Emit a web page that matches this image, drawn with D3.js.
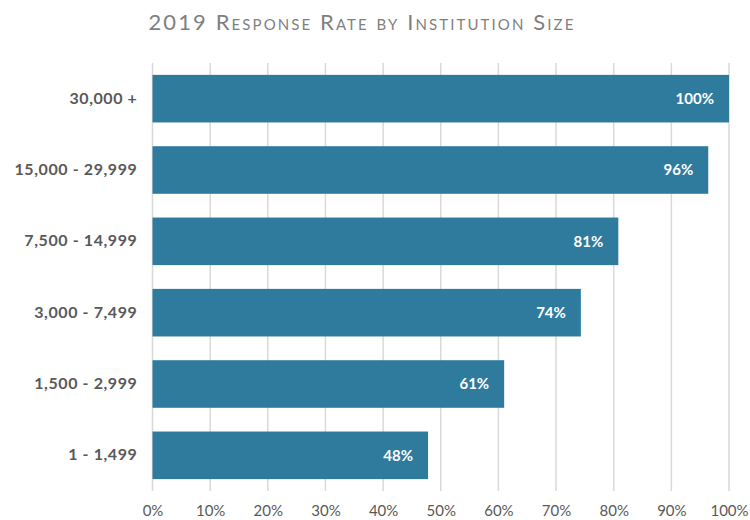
<!DOCTYPE html>
<html>
<head>
<meta charset="utf-8">
<script src="https://cdn.jsdelivr.net/npm/d3@7"></script>
<style>
  body { margin: 0; background: #fff; }
  svg text { font-family: "Lato", "Open Sans", sans-serif; }
</style>
</head>
<body>
<div id="chart"></div>
<script>
// Data
var categories = ["30,000 +", "15,000 - 29,999", "7,500 - 14,999", "3,000 - 7,499", "1,500 - 2,999", "1 - 1,499"];
var rates = [100, 96.4, 80.8, 74.3, 61, 47.8];
var tickValues = [0, 10, 20, 30, 40, 50, 60, 70, 80, 90, 100];
var title = "2019 Response Rate by Institution Size";

var svgWidth = 750;
var svgHeight = 520;
var margin = {top: 63, right: 21, bottom: 29, left: 152.5};
var width = svgWidth - margin.left - margin.right;
var height = svgHeight - margin.top - margin.bottom;

var svg = d3.select("#chart")
  .append("svg")
  .attr("width", svgWidth)
  .attr("height", svgHeight);

// Title
svg.append("text")
  .attr("x", 362)
  .attr("y", 30)
  .attr("text-anchor", "middle")
  .attr("fill", "#7f7f7f")
  .style("font-size", "22px")
  .style("letter-spacing", "2.1px")
  .style("font-variant", "small-caps")
  .text(title);

var chart = svg.append("g")
  .attr("transform", `translate(${margin.left}, ${margin.top})`);

var xScale = d3.scaleLinear()
  .domain([0, 100])
  .range([0, width]);

var yScale = d3.scaleBand()
  .domain(categories)
  .range([0, height])
  .paddingInner(0.333)
  .paddingOuter(0.1665);

// Gridlines
chart.selectAll("line.grid")
  .data(tickValues)
  .enter()
  .append("line")
  .attr("class", "grid")
  .attr("x1", d => xScale(d))
  .attr("x2", d => xScale(d))
  .attr("y1", 0)
  .attr("y2", height)
  .attr("stroke", "#d9d9d9")
  .attr("stroke-width", 1.5);

// X axis labels
var xAxis = chart.append("g")
  .attr("transform", `translate(0, ${height})`)
  .call(d3.axisBottom(xScale).tickValues(tickValues).tickSize(0).tickPadding(14).tickFormat(d => d + "%"));
xAxis.select(".domain").remove();
xAxis.selectAll("text")
  .attr("fill", "#595959")
  .style("font-size", "15px")
  .style("font-family", "Lato, 'Open Sans', sans-serif");

// Y axis labels
var yAxis = chart.append("g")
  .call(d3.axisLeft(yScale).tickSize(0).tickPadding(15));
yAxis.select(".domain").remove();
yAxis.selectAll("text")
  .attr("fill", "#595959")
  .style("font-size", "16px")
  .style("font-weight", "bold")
  .style("letter-spacing", "0.6px")
  .style("font-family", "Lato, 'Open Sans', sans-serif");

// Bars
var rows = categories.map((c, i) => ({cat: c, rate: rates[i]}));

chart.selectAll("rect.bar")
  .data(rows)
  .enter()
  .append("rect")
  .attr("class", "bar")
  .attr("x", 0)
  .attr("y", d => yScale(d.cat))
  .attr("width", d => xScale(d.rate))
  .attr("height", yScale.bandwidth())
  .attr("fill", "#2e7b9d");

// Value labels
chart.selectAll("text.value")
  .data(rows)
  .enter()
  .append("text")
  .attr("class", "value")
  .attr("x", d => xScale(d.rate) - 15)
  .attr("y", d => yScale(d.cat) + yScale.bandwidth() / 2)
  .attr("dy", "0.35em")
  .attr("text-anchor", "end")
  .attr("fill", "#fff")
  .style("font-size", "15px")
  .style("font-weight", "bold")
  .text(d => Math.round(d.rate) + "%");
</script>
</body>
</html>
